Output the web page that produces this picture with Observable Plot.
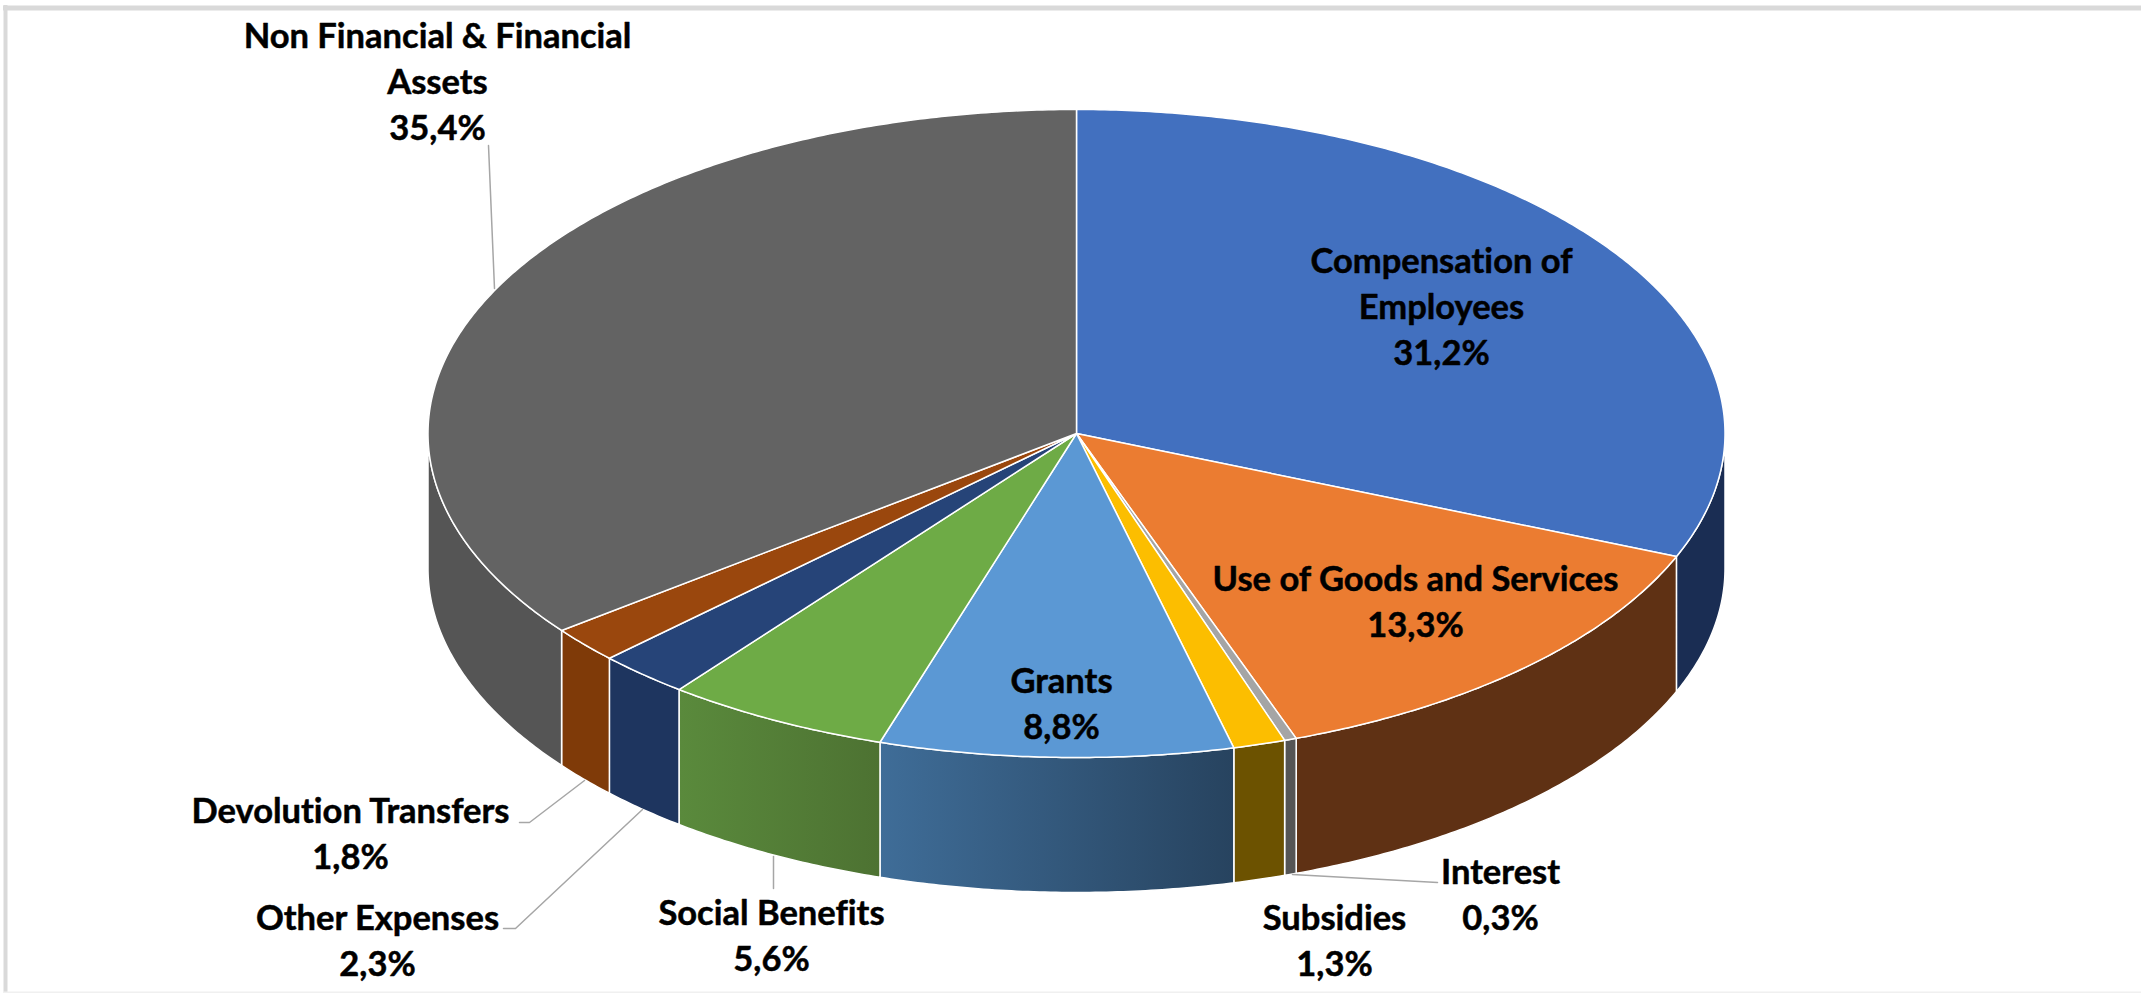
<!DOCTYPE html>
<html>
<head>
<meta charset="utf-8">
<script src="https://cdn.jsdelivr.net/npm/d3@7"></script>
<script src="https://cdn.jsdelivr.net/npm/@observablehq/plot@0.6"></script>
<style>html,body{margin:0;padding:0;background:#fff}svg{display:block}text{font-variant-ligatures:none}</style>
</head>
<body>
<div id="chart"></div>
<script>
// ---- data
const categories = ["Compensation of\nEmployees","Use of Goods and Services","Interest","Subsidies","Grants","Social Benefits","Other Expenses","Devolution Transfers","Non Financial & Financial\nAssets"];
const shares = [31.2,13.3,0.3,1.3,8.8,5.6,2.3,1.8,35.4];
const shareLabels = ["31,2%","13,3%","0,3%","1,3%","8,8%","5,6%","2,3%","1,8%","35,4%"];
// ---- colours
const topColors = ["#4270BF","#EB7C31","#A5A5A5","#FCBE00","#5B98D4","#6EAB46","#264478","#9A470D","#636363"];
const sideFrom  = ["#1A2D53","#5F3114","#555555","#6C5200","#3F6D98","#5A8A3C","#1E355F","#7F3A08","#555555"];
const sideTo    = ["#1A2D53","#5F3114","#555555","#6C5200","#27435F","#4D7232","#1E355F","#7F3A08","#555555"];
// ---- layout (chart space)
const W = 2141, H = 993;
const cx = 1076, cy = 433, rx = 648.5, ry = 324, depth = 135;
const labelX = [1441,1415,1500,1334,1061,771,377,350,437];
const labelY = [304,599,892,938,701,933,938,831,79];
const leaderX = [[],[],[1437,1292],[],[],[773,773],[503,515,642],[519,529,584],[488,494]];
const leaderY = [[],[],[882,874],[],[],[856,888],[928,928,809],[822,822,780],[145,288]];

const toRad = d => d * Math.PI / 180;
const rim = (deg, drop = 0) => ({x: cx + rx * Math.sin(toRad(deg)), y: cy - ry * Math.cos(toRad(deg)) + drop});
function arc(a0, a1, drop = 0) {
  const n = Math.max(2, Math.ceil(Math.abs(a1 - a0) * 2));
  return d3.range(n + 1).map(i => rim(a0 + (a1 - a0) * i / n, drop));
}
let acc = 0;
const slices = shares.map((v, i) => {
  const a0 = acc / 100 * 360; acc += v; const a1 = acc / 100 * 360;
  return {i, a0, a1};
});
const topFace = s => [{x: cx, y: cy}, ...arc(s.a0, s.a1), {x: cx, y: cy}];
const wall = s => {
  const a0 = Math.max(s.a0, 90), a1 = Math.min(s.a1, 270);
  if (a1 <= a0) return null;
  const pts = [...arc(a0, a1), ...arc(a1, a0, depth)];
  return [...pts, pts[0]];
};

const gradients = () => {
  const defs = d3.create("svg:defs");
  slices.forEach(s => {
    const g = defs.append("linearGradient").attr("id", "side" + s.i).attr("x1", 0).attr("x2", 1).attr("y1", 0).attr("y2", 0);
    g.append("stop").attr("offset", 0).attr("stop-color", sideFrom[s.i]);
    g.append("stop").attr("offset", 1).attr("stop-color", sideTo[s.i]);
  });
  return defs.node();
};

const textOpts = {fontFamily: "Lato", fontWeight: 700, fontSize: 34.5, lineHeight: 1.333, fill: "#000", stroke: "#000", strokeWidth: 0.5, textAnchor: "middle", lineAnchor: "middle"};
const labelRows = categories.map((c, i) => ({text: c + "\n" + shareLabels[i], x: labelX[i], y: labelY[i]}));

const chart = Plot.plot({
  width: W, height: H,
  margin: 0,
  style: {background: "#fff"},
  x: {domain: [0, W], range: [0, W], axis: null},
  y: {domain: [0, H], range: [0, H], axis: null},
  marks: [
    gradients,
    Plot.ruleY([7.5], {x1: 3, x2: W, stroke: "#d9d9d9", strokeWidth: 5}),
    Plot.ruleX([5], {y1: 5, y2: H, stroke: "#d9d9d9", strokeWidth: 4}),
    Plot.ruleY([992], {x1: 3, x2: W, stroke: "#f0f0f0", strokeWidth: 2}),
    ...slices.filter(wall).map(s => Plot.line(wall(s), {x: "x", y: "y", fill: `url(#side${s.i})`, stroke: "#fff", strokeWidth: 1.5, curve: "linear"})),
    ...slices.map(s => Plot.line(topFace(s), {x: "x", y: "y", fill: topColors[s.i], stroke: "#fff", strokeWidth: 1.5, strokeLinejoin: "round", curve: "linear"})),
    ...leaderX.filter(a => a.length).map((xs) => {
      const ys = leaderY[leaderX.indexOf(xs)];
      return Plot.line(xs.map((x, j) => ({x, y: ys[j]})), {x: "x", y: "y", stroke: "#a6a6a6", strokeWidth: 1.5});
    }),
    Plot.text(labelRows, {x: "x", y: "y", text: "text", ...textOpts})
  ]
});
document.getElementById("chart").append(chart);
</script>
</body>
</html>
